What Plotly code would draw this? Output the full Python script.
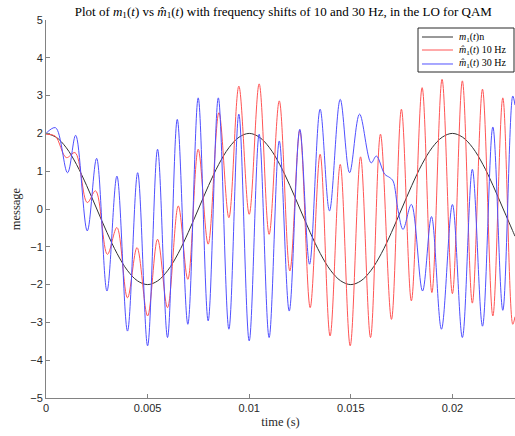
import plotly.graph_objects as go

# time in milliseconds (converted to seconds below)
t_black_ms = [0, 0.5, 1, 1.5, 2, 2.5, 3, 3.5, 4, 4.5, 5, 5.5, 6, 6.5, 7, 7.5, 8, 8.5, 9, 9.5,
              10, 10.5, 11, 11.5, 12, 12.5, 13, 13.5, 14, 14.5, 15, 15.5, 16, 16.5, 17, 17.5,
              18, 18.5, 19, 19.5, 20, 20.5, 21, 21.5, 22, 22.5, 23, 23.08]
v_black = [2.0, 1.9, 1.62, 1.18, 0.62, 0.0, -0.62, -1.18, -1.62, -1.9, -2.0, -1.9, -1.62, -1.18,
           -0.62, 0.0, 0.62, 1.18, 1.62, 1.9, 2.0, 1.9, 1.62, 1.18, 0.62, 0.0, -0.62, -1.18,
           -1.62, -1.9, -2.0, -1.9, -1.62, -1.18, -0.62, 0.0, 0.62, 1.18, 1.62, 1.9, 2.0, 1.9,
           1.62, 1.18, 0.62, 0.0, -0.62, -0.72]

t_red_ms = [0, 0.45, 1.0, 1.43, 2.03, 2.44, 3.02, 3.49, 4.01, 4.48, 5.0, 5.49, 5.98, 6.51,
            6.98, 7.49, 7.98, 8.51, 9.0, 9.49, 10.0, 10.49, 10.98, 11.48, 12.0, 12.49, 13.0,
            13.49, 13.98, 14.48, 14.97, 15.48, 15.97, 16.46, 17.0, 17.49, 17.98, 18.51, 18.99,
            19.49, 20.0, 20.49, 20.98, 21.48, 21.99, 22.48, 22.97, 23.08]
v_red = [1.98, 1.93, 1.36, 1.49, 0.17, 0.48, -1.20, -0.49, -2.35, -1.02, -2.83, -0.80, -2.61,
         0.08, -1.86, 1.58, -0.93, 2.55, -0.23, 3.25, -0.14, 3.31, -0.67, 2.86, -1.64, 2.08,
         -2.61, 1.45, -3.36, 1.18, -3.62, 1.38, -3.40, 1.98, -2.92, 2.64, -2.43, 3.21, -2.21,
         3.43, -2.24, 3.39, -2.49, 3.17, -2.83, 2.94, -3.05, -2.85]

t_blue_ms = [0, 0.47, 1.06, 1.46, 2.03, 2.49, 3.0, 3.49, 4.01, 4.51, 5.0, 5.49, 5.98, 6.46,
             6.98, 7.49, 7.98, 8.48, 9.0, 9.49, 10.0, 10.49, 10.98, 11.48, 11.97, 12.49, 12.97,
             13.49, 13.95, 14.48, 14.94, 15.43, 16.0, 16.26, 16.67, 16.92, 17.08, 17.33, 17.57,
             17.98, 18.53, 18.97, 19.46, 20.0, 20.49, 20.98, 21.48, 21.99, 22.48, 22.97, 23.08]
v_blue = [2.0, 2.15, 0.96, 1.95, -0.58, 1.34, -2.17, 0.87, -3.23, 0.96, -3.62, 1.58, -3.40,
          2.37, -3.05, 2.94, -2.96, 2.94, -3.18, 2.51, -3.49, 1.98, -3.40, 1.80, -2.70, 2.11,
          -1.46, 2.64, -0.05, 2.90, 0.96, 2.51, 1.22, 1.40, 0.92, 0.83, 0.74, -0.05, -0.54,
          0.12, -2.17, -0.20, -3.18, 0.12, -3.40, 1.05, -3.10, 2.17, -2.68, 2.99, 2.75]

x_ticks = [0, 0.005, 0.01, 0.015, 0.02]
x_tick_labels = ["0", "0.005", "0.01", "0.015", "0.02"]
y_ticks = [-5, -4, -3, -2, -1, 0, 1, 2, 3, 4, 5]

names = ["<i>m</i><sub>1</sub>(<i>t</i>)n",
         "<i>m̂</i><sub>1</sub>(<i>t</i>) 10 Hz",
         "<i>m̂</i><sub>1</sub>(<i>t</i>) 30 Hz"]
colors = ["rgb(50,50,50)", "rgb(255,85,85)", "rgb(80,80,255)"]

def sec(ms):
    return [v / 1000.0 for v in ms]

fig = go.Figure()
for tx, vy, nm, col in [(t_black_ms, v_black, names[0], colors[0]),
                        (t_red_ms, v_red, names[1], colors[1]),
                        (t_blue_ms, v_blue, names[2], colors[2])]:
    fig.add_trace(go.Scatter(x=sec(tx), y=vy, mode="lines", name=nm, showlegend=False,
                             line=dict(color=col, width=1, shape="spline")))

serif = "Liberation Serif, Times New Roman, serif"
sans = "Liberation Sans, Arial, sans-serif"

# compact legend box (paper coordinates)
shapes = [dict(type="rect", xref="paper", yref="paper", x0=0.7932, x1=0.9979, y0=0.8624, y1=0.9788,
               line=dict(color="rgb(40,40,40)", width=1), fillcolor="white", layer="above")]
annotations = []
row_y = [0.955, 0.9206, 0.8836]
for nm, col, yy in zip(names, colors, row_y):
    shapes.append(dict(type="line", xref="paper", yref="paper", x0=0.8017, x1=0.8678, y0=yy, y1=yy,
                       line=dict(color=col, width=1), layer="above"))
    annotations.append(dict(text=nm, xref="paper", yref="paper", x=0.876, y=yy, xanchor="left",
                            yanchor="middle", showarrow=False,
                            font=dict(family=serif, size=10, color="black")))

fig.update_layout(
    width=515, height=436,
    margin=dict(l=46, r=0, t=20, b=38),
    plot_bgcolor="white", paper_bgcolor="white",
    title=dict(text="Plot of <i>m</i><sub>1</sub>(<i>t</i>) vs <i>m̂</i><sub>1</sub>(<i>t</i>) with frequency shifts of 10 and 30 Hz, in the LO for QAM",
               x=0.55, xanchor="center", y=0.985, yanchor="top",
               font=dict(family=serif, size=13, color="black")),
    shapes=shapes,
    annotations=annotations,
    showlegend=False,
)
fig.update_xaxes(range=[0, 0.02308], tickvals=x_ticks, ticktext=x_tick_labels,
                 showgrid=False, zeroline=False, showline=True, linecolor="rgb(130,130,130)",
                 linewidth=1, ticks="inside", ticklen=4, tickcolor="rgb(130,130,130)",
                 tickfont=dict(family=sans, size=11, color="rgb(40,40,40)"),
                 title=dict(text="time (s)", font=dict(family=serif, size=12.5, color="rgb(40,40,40)"),
                            standoff=4))
fig.update_yaxes(range=[-5, 5], tickvals=y_ticks,
                 showgrid=False, zeroline=False, showline=True, linecolor="rgb(130,130,130)",
                 linewidth=1, ticks="inside", ticklen=4, tickcolor="rgb(130,130,130)",
                 tickfont=dict(family=sans, size=11, color="rgb(40,40,40)"),
                 title=dict(text="message", font=dict(family=serif, size=12.5, color="rgb(40,40,40)"),
                            standoff=6))

fig.write_html("out.html")
